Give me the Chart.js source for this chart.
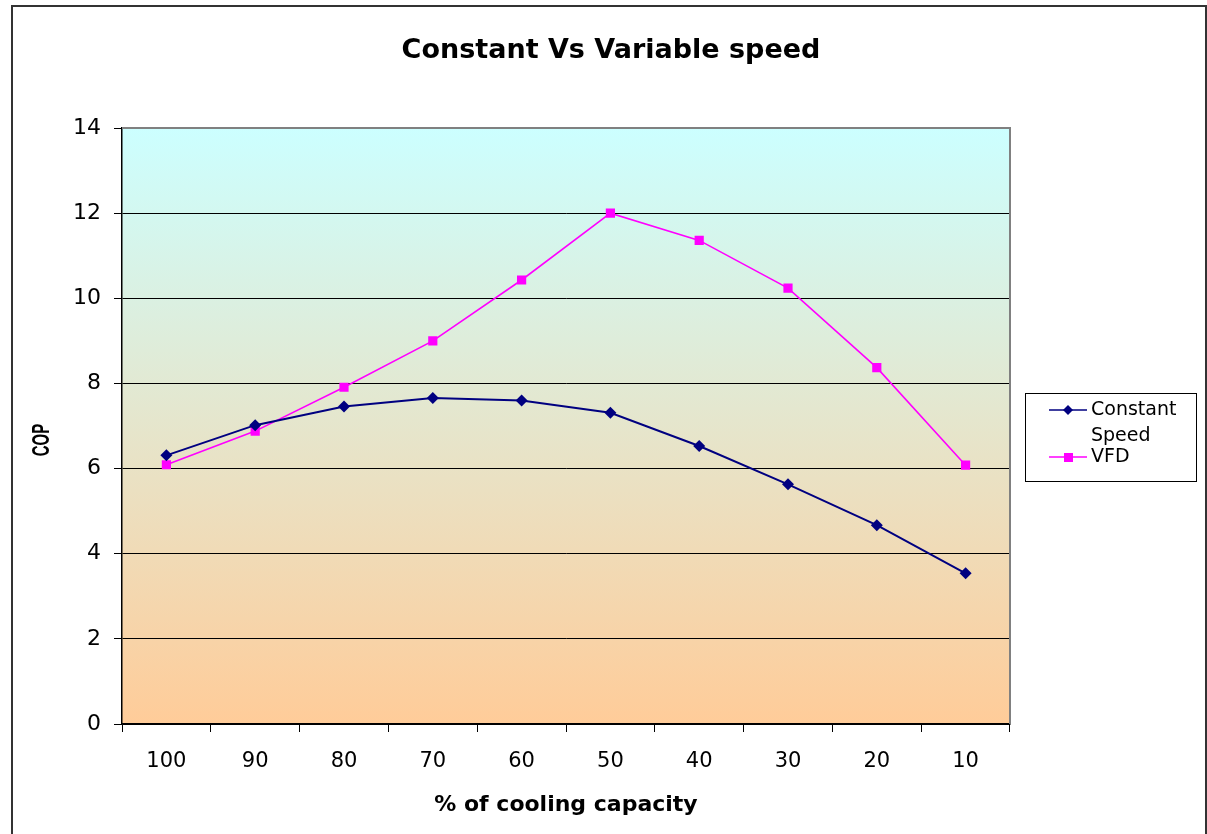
<!DOCTYPE html>
<html>
<head>
<meta charset="utf-8">
<script src="https://cdn.jsdelivr.net/npm/chart.js@4.4.0/dist/chart.umd.min.js"></script>
<style>
  html, body { margin: 0; padding: 0; background: #fff; }
  #wrap { width: 1207px; height: 834px; position: relative; }
</style>
</head>
<body>
<div id="wrap"><canvas id="myChart" width="1207" height="834"></canvas></div>
<script>
// chart values
var capacityLabels = ['100', '90', '80', '70', '60', '50', '40', '30', '20', '10'];
var constantSpeed = [6.31, 7.02, 7.46, 7.66, 7.6, 7.31, 6.53, 5.63, 4.67, 3.54];
var vfd = [6.09, 6.88, 7.91, 9.0, 10.43, 12.0, 11.36, 10.24, 8.37, 6.08];
var yTicks = [0, 2, 4, 6, 8, 10, 12, 14];

var FONT = '"DejaVu Sans", Arial, sans-serif';

// gradient plot background, frame, title, COP label and legend
var plotBg = {
    id: 'plotBg',
    beforeDraw: function(chart) {
        var c = chart.ctx, a = chart.chartArea;
        var g = c.createLinearGradient(0, a.top, 0, a.bottom);
        g.addColorStop(0, '#ccffff');
        g.addColorStop(1, '#ffcc99');
        c.save();
        c.fillStyle = g;
        c.fillRect(a.left, a.top, a.right - a.left, a.bottom - a.top);
        c.restore();
    },
    afterDraw: function(chart) {
        var c = chart.ctx, a = chart.chartArea;
        c.save();
        // grey top/right of plot area
        c.strokeStyle = '#808080';
        c.lineWidth = 2;
        c.beginPath();
        c.moveTo(a.left, a.top);
        c.lineTo(a.right, a.top);
        c.lineTo(a.right, a.bottom);
        c.stroke();
        // outer frame
        c.strokeStyle = '#333333';
        c.lineWidth = 2;
        c.beginPath();
        c.moveTo(12, 840);
        c.lineTo(12, 6);
        c.lineTo(1206, 6);
        c.lineTo(1206, 840);
        c.stroke();

        // chart title
        c.fillStyle = '#000';
        c.textAlign = 'center';
        c.textBaseline = 'middle';
        c.font = 'bold 27px ' + FONT;
        c.fillText('Constant Vs Variable speed', 611, 51);

        // y axis title (stretched like the original)
        c.save();
        c.translate(42, 440);
        c.rotate(-Math.PI / 2);
        c.scale(1, 1.6);
        c.font = 'bold 15px Arial, "Liberation Sans", sans-serif';
        c.fillText('COP', 0, 0);
        c.restore();

        // legend box
        var lx = 1025, ly = 393, lw = 171, lh = 88;
        c.fillStyle = '#ffffff';
        c.fillRect(lx, ly, lw, lh);
        c.strokeStyle = '#000000';
        c.lineWidth = 1;
        c.strokeRect(lx + 0.5, ly + 0.5, lw, lh);
        c.font = '19px ' + FONT;
        c.textAlign = 'left';
        c.textBaseline = 'middle';
        var rows = [
            { ds: chart.data.datasets[0], y: 410, lines: ['Constant', 'Speed'] },
            { ds: chart.data.datasets[1], y: 457, lines: ['VFD'] }
        ];
        rows.forEach(function(r) {
            c.strokeStyle = r.ds.borderColor;
            c.lineWidth = 1.5;
            c.beginPath();
            c.moveTo(1049, r.y);
            c.lineTo(1087, r.y);
            c.stroke();
            c.fillStyle = r.ds.borderColor;
            if (r.ds.pointStyle === 'rectRot') {
                c.beginPath();
                c.moveTo(1068, r.y - 5);
                c.lineTo(1073, r.y);
                c.lineTo(1068, r.y + 5);
                c.lineTo(1063, r.y);
                c.closePath();
                c.fill();
            } else {
                c.fillRect(1064, r.y - 4, 9, 9);
            }
            c.fillStyle = '#000';
            r.lines.forEach(function(t, i) {
                c.fillText(t, 1091, r.y + i * 26);
            });
        });
        c.restore();
    }
};

var ctx = document.getElementById('myChart').getContext('2d');
var myChart = new Chart(ctx, {
    type: 'line',
    data: {
        labels: capacityLabels,
        datasets: [{
            label: 'Constant Speed',
            data: constantSpeed,
            borderColor: '#000080',
            backgroundColor: '#000080',
            borderWidth: 2,
            pointStyle: 'rectRot',
            pointRadius: 6,
            pointBorderWidth: 0,
            tension: 0
        }, {
            label: 'VFD',
            data: vfd,
            borderColor: '#ff00ff',
            backgroundColor: '#ff00ff',
            borderWidth: 1.6,
            pointStyle: 'rect',
            pointRadius: 6.5,
            pointBorderWidth: 0,
            tension: 0
        }]
    },
    options: {
        responsive: false,
        animation: false,
        layout: { padding: { left: 0, right: 197, top: 128, bottom: 16 } },
        plugins: {
            legend: { display: false },
            tooltip: { enabled: false },
            title: { display: false }
        },
        scales: {
            x: {
                offset: true,
                grid: { offset: true, drawOnChartArea: false, drawTicks: true, tickLength: 8, color: '#000' },
                border: { color: '#000', width: 1.5 },
                ticks: { color: '#000', font: { family: FONT, size: 21 }, padding: 17, maxRotation: 0 },
                title: {
                    display: true,
                    text: '% of cooling capacity',
                    color: '#000',
                    font: { family: FONT, size: 22, weight: 'bold' },
                    padding: { top: 10, bottom: 0 }
                },
                afterFit: function(s) { s.height = 94; }
            },
            y: {
                min: 0,
                max: 14,
                afterBuildTicks: function(s) { s.ticks = yTicks.map(function(v) { return { value: v }; }); },
                grid: { color: '#000', lineWidth: 1, tickLength: 8 },
                border: { color: '#000', width: 1.5 },
                ticks: { color: '#000', font: { family: FONT, size: 22 }, padding: 13 },
                title: { display: false },
                afterFit: function(s) { s.width = 122; }
            }
        }
    },
    plugins: [plotBg]
});
</script>
</body>
</html>
